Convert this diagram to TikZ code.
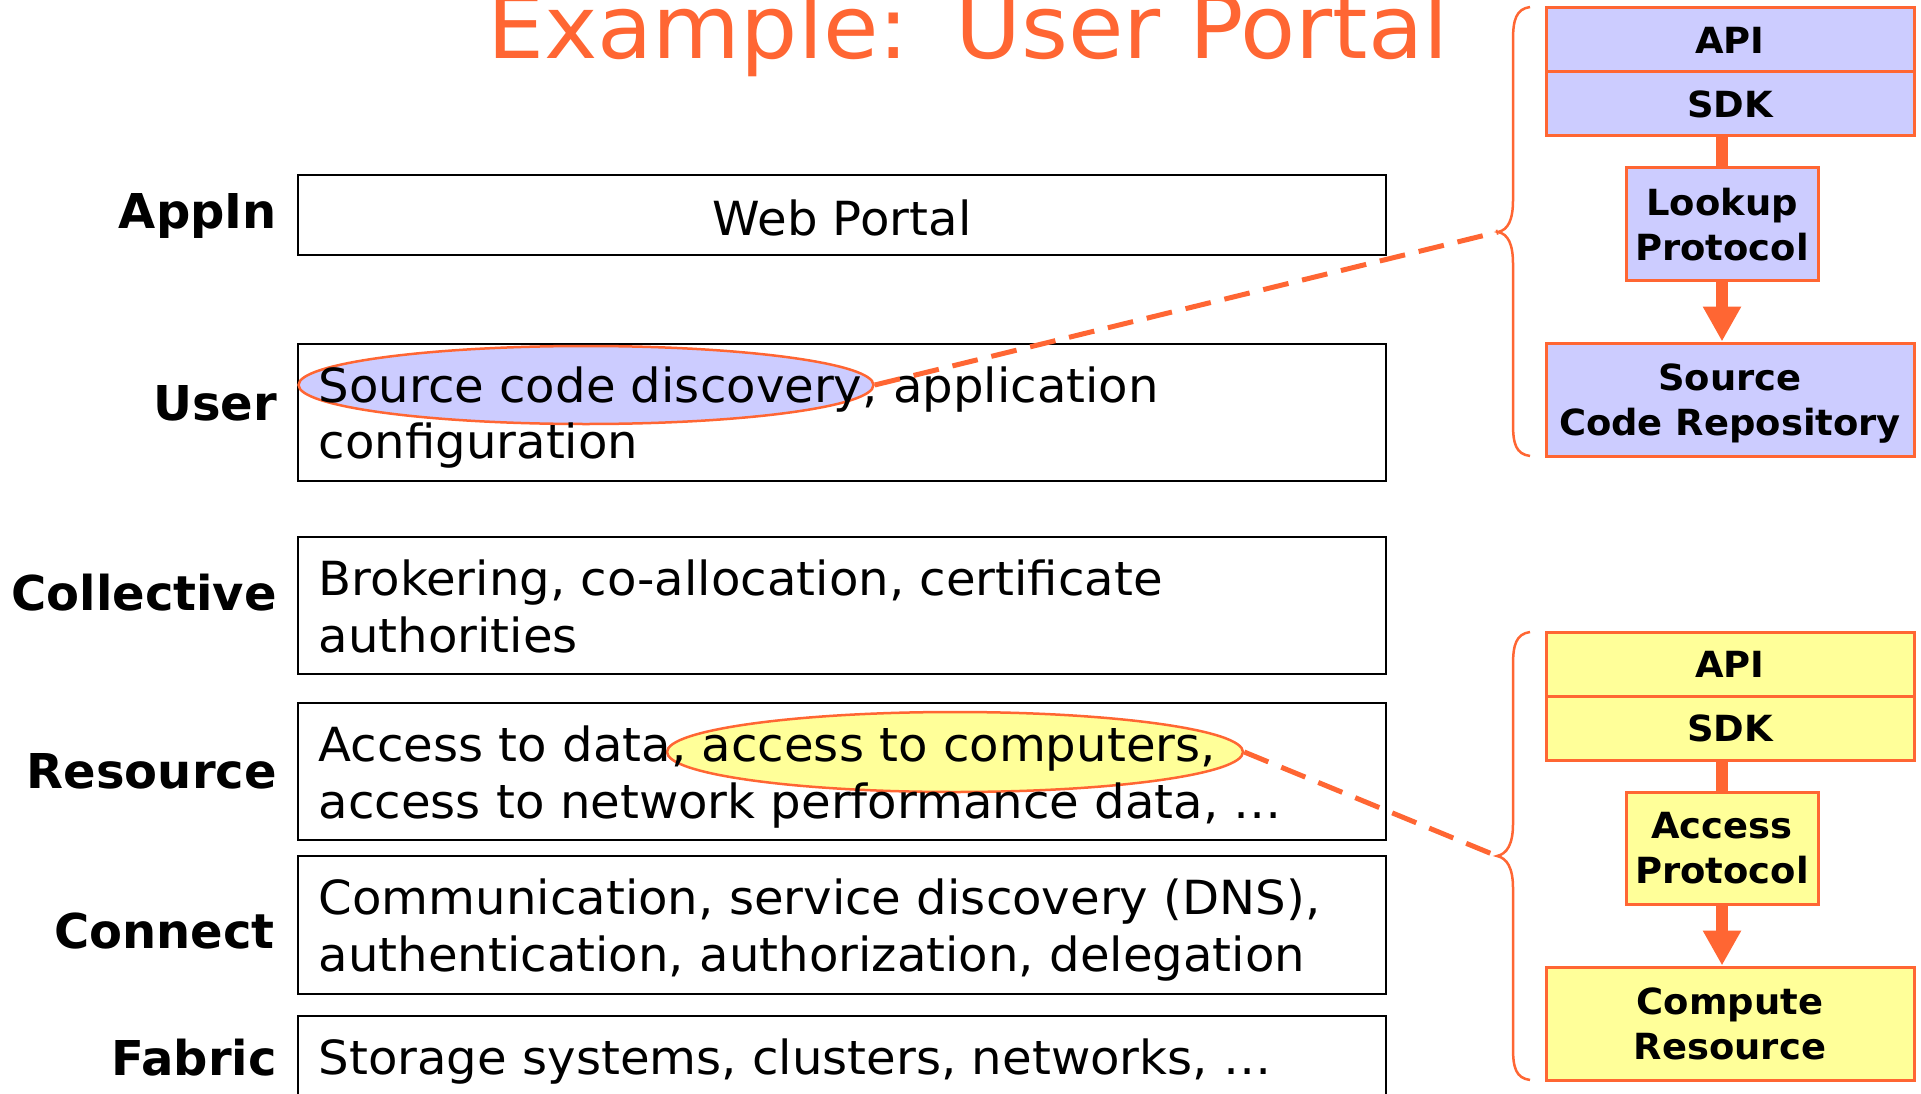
\documentclass[tikz,border=0pt]{standalone}
\usepackage{fontspec}
\setmainfont{DejaVu Sans}
\newfontfamily\bodyfont[FakeStretch=1.025]{DejaVu Sans}
\newfontfamily\titlefont[FakeStretch=1.025]{DejaVu Sans}
\newfontfamily\stackfont[FakeStretch=1.025]{DejaVu Sans}
\usetikzlibrary{shapes.geometric,arrows.meta}
\definecolor{accent}{HTML}{FF6633}
\definecolor{lilac}{HTML}{CCCCFF}
\definecolor{lemon}{HTML}{FFFF99}
\tikzset{
  layerbox/.style={draw=black, line width=2.5pt, minimum width=1088pt, inner sep=0pt},
  layerlabel/.style={anchor=base east, inner sep=0pt, font=\fontsize{48}{58}\selectfont\bfseries},
  bodyline/.style={anchor=base west, inner sep=0pt, font=\bodyfont\fontsize{47}{57}\selectfont},
  hilite/.style={ellipse, draw=accent, line width=2.5pt, inner sep=0pt},
  stackbox/.style={draw=accent, line width=3pt, inner sep=0pt, align=center, text depth=0pt,
    font=\stackfont\fontsize{36}{45}\selectfont\bfseries},
  widebox/.style={stackbox, minimum width=368pt},
  pipe/.style={draw=accent, line width=12pt},
  leader/.style={draw=accent, line width=5pt, dash pattern=on 26pt off 14pt},
  bracket/.style={draw=accent, line width=2.5pt}
}
\begin{document}
\begin{tikzpicture}[x=1pt,y=-1pt]
\useasboundingbox (0,0) rectangle (1921,1094);
\clip (0,0) rectangle (1921,1094);

% title
\node[anchor=base west, inner sep=0pt, text=accent, font=\titlefont\fontsize{88}{100}\selectfont]
  (title) at (487,59) {Example:\hspace{8pt} User Portal};

% layer boxes
\node[layerbox, minimum height=80pt]  (appin) at (842,215) {};
\node[layerbox, minimum height=137pt] (user)  at (842,412.5) {};
\node[layerbox, minimum height=137pt] (coll)  at (842,605.5) {};
\node[layerbox, minimum height=137pt] (res)   at (842,771.5) {};
\node[layerbox, minimum height=138pt] (conn)  at (842,925) {};
\node[layerbox, minimum height=144pt] (fab)   at (842,1088) {};

% highlighted services
\node[hilite, fill=lilac, minimum width=575pt, minimum height=78pt] (srcdisc) at (586,385) {};
\node[hilite, fill=lemon, minimum width=576pt, minimum height=80pt] (compacc) at (955,752) {};

% layer contents
\node[anchor=base, inner sep=0pt, font=\bodyfont\fontsize{47}{57}\selectfont] (webportal) at (842,235) {Web Portal};
\node[bodyline] (userA) at (318.5,402) {Source code discovery, application};
\node[bodyline] (userB) at (318.5,458) {configuration};
\node[bodyline] (collA) at (318.5,595) {Brokering, co-allocation, certificate};
\node[bodyline] (collB) at (318.5,652) {authorities};
\node[bodyline] (resA)  at (318.5,761) {Access to data, access to computers,};
\node[bodyline] (resB)  at (318.5,818) {access to network performance data, …};
\node[bodyline] (connA) at (318.5,914) {Communication, service discovery (DNS),};
\node[bodyline] (connB) at (318.5,971) {authentication, authorization, delegation};
\node[bodyline] (fabA)  at (318.5,1074) {Storage systems, clusters, networks, …};

% layer names
\node[layerlabel] (lblappin) at (277,229)  {AppIn};
\node[layerlabel] (lbluser)  at (277,420)  {User};
\node[layerlabel] (lblcoll)  at (277,610)  {Collective};
\node[layerlabel] (lblres)   at (277,788)  {Resource};
\node[layerlabel] (lblconn)  at (275,948)  {Connect};
\node[layerlabel] (lblfab)   at (277,1075) {Fabric};

% source code discovery stack
\node[widebox, fill=lilac, minimum height=64pt] (apiA) at (1730,40) {API};
\node[widebox, fill=lilac, minimum height=64pt] (sdkA) at (1730,104) {SDK};
\node[stackbox, fill=lilac, minimum width=192pt, minimum height=112pt] (lookup) at (1722,224) {Lookup\\Protocol};
\node[widebox, fill=lilac, minimum height=113pt] (repo) at (1730,399.5) {Source\\Code Repository};
\draw[pipe] (sdkA.south -| lookup.north) -- (lookup.north);
\draw[pipe, -{Triangle[width=36pt,length=35pt]}] (lookup.south) -- (lookup.south |- repo.north);

% compute access stack
\node[widebox, fill=lemon, minimum height=64pt] (apiB) at (1730,664) {API};
\node[widebox, fill=lemon, minimum height=64pt] (sdkB) at (1730,728) {SDK};
\node[stackbox, fill=lemon, minimum width=192pt, minimum height=112pt] (access) at (1722,848) {Access\\Protocol};
\node[widebox, fill=lemon, minimum height=113pt] (compute) at (1730,1023.5) {Compute\\Resource};
\draw[pipe] (sdkB.south -| access.north) -- (access.north);
\draw[pipe, -{Triangle[width=36pt,length=35pt]}] (access.south) -- (access.south |- compute.north);

% braces
\coordinate (braceA) at (1498,232);
\coordinate (braceB) at (1497,856);
\draw[bracket] (1530,7) .. controls (1516,9) and (1513,20) .. (1513,40) -- (1513,200)
  .. controls (1513,220) and (1508,230) .. (braceA)
  .. controls (1508,234) and (1513,244) .. (1513,264) -- (1513,424)
  .. controls (1513,444) and (1516,454) .. (1530,456);
\draw[bracket] (1530,632) .. controls (1516,634) and (1513,645) .. (1513,665) -- (1513,824)
  .. controls (1513,844) and (1507,854) .. (braceB)
  .. controls (1507,858) and (1513,868) .. (1513,888) -- (1513,1048)
  .. controls (1513,1068) and (1516,1078) .. (1530,1080);

% leaders from highlighted services to their stacks
\draw[leader] (srcdisc.east) -- (braceA);
\draw[leader] (compacc.east) -- (braceB);
\end{tikzpicture}
\end{document}
